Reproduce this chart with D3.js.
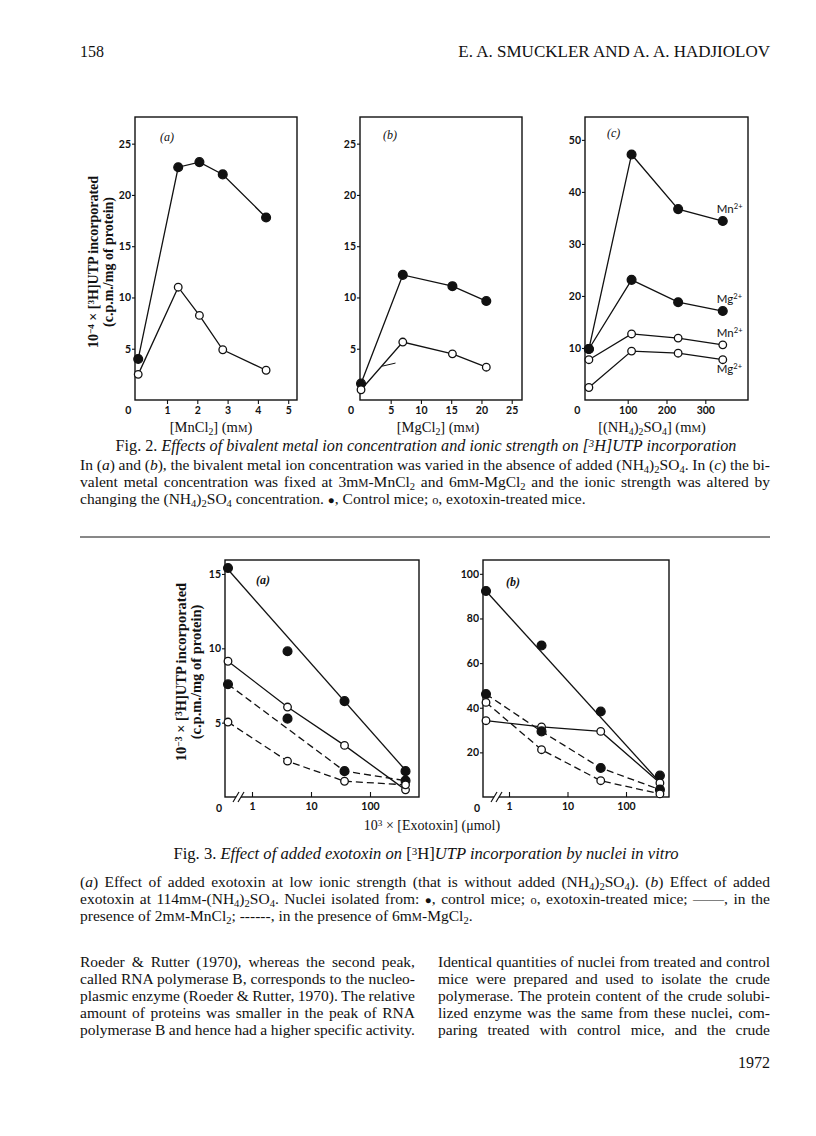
<!DOCTYPE html>
<html>
<head>
<meta charset="utf-8">
<script src="https://cdn.jsdelivr.net/npm/d3@7"></script>
<style>
body { margin: 0; background: #fff; }
svg text { font-family: "Liberation Serif", "Times New Roman", serif; fill: #111; }
.tick text, .tk { font-family: Lato, "DejaVu Sans", sans-serif; font-weight: 700; font-size: 10.5px; fill: #111; }
.tick line { stroke: #111; stroke-width: 1.1; }
</style>
</head>
<body>
<svg id="page" width="816" height="1136"></svg>
<script>
// ---- Fig. 2 data ----
const mnclConc = [0.05, 1.37, 2.07, 2.84, 4.27];
const mnclControl = [4.0, 22.7, 23.2, 22.0, 17.8];
const mnclTreated = [2.5, 11.0, 8.25, 4.9, 2.9];

const mgclConc = [0.1, 7.0, 15.2, 20.8];
const mgclControl = [1.6, 12.2, 11.1, 9.65];
const mgclTreated = [1.0, 5.65, 4.5, 3.2];
const mgclStrayX = [3.6, 5.8];
const mgclStrayY = [3.3, 3.6];

const sulphateConc = [0, 110, 230, 345];
const mnSulphControl = [9.8, 47.2, 36.7, 34.4];
const mgSulphControl = [9.8, 23.1, 18.8, 17.1];
const mnSulphTreated = [7.75, 12.7, 11.9, 10.6];
const mgSulphTreated = [2.4, 9.4, 9.0, 7.75];

// ---- Fig. 3 data ----
const exotoxinA = [0, 4, 37, 400];
const mnControlA = [15.4, 9.8, 6.45, 1.74];
const mnTreatedA = [9.13, 6.05, 3.47, 0.48];
const mgControlA = [7.58, 5.27, 1.74, 1.1];
const mgTreatedA = [5.04, 2.41, 1.06, 0.82];
const fitXA = [0, 400];
const mnControlAFit = [15.3, 1.8];
const mgControlALineX = [0, 37, 400];
const mgControlALine = [7.58, 1.74, 1.1];

const exotoxinB = [0, 3.6, 37, 380];
const mnControlB = [92.3, 67.9, 38.3, 9.6];
const mnTreatedB = [34.2, 31.4, 29.4, 6.3];
const mgControlB = [46.1, 29.4, 13.0, 3.3];
const mgTreatedB = [42.4, 21.2, 7.3, 1.4];
const fitXB = [0, 380];
const mnControlBFit = [92.3, 6.5];

const svg = d3.select('#page');

// text helpers
const sub = s => `<tspan baseline-shift="-2.5" font-size="68%">${s}</tspan>`;
const sup = s => `<tspan baseline-shift="4.5" font-size="66%">${s}</tspan>`;
const sc = s => `<tspan font-size="74%">${s}</tspan>`;
const it = s => `<tspan font-style="italic">${s}</tspan>`;
const mM = `m${sc('M')}`;
const nh4so4 = `(NH${sub('4')})${sub('2')}SO${sub('4')}`;

function addText(parent, x, y, html, opt = {}) {
    const t = parent.append('text')
        .attr('x', x).attr('y', y)
        .attr('font-size', opt.size || 15.5)
        .attr('text-anchor', opt.anchor || 'start')
        .html(html);
    if (opt.weight) t.attr('font-weight', opt.weight);
    if (opt.italic) t.attr('font-style', 'italic');
    if (opt.rotate) t.attr('transform', `rotate(-90,${x},${y})`);
    // justify by widening the word gaps
    if (opt.justify) {
        const node = t.node();
        const gaps = (node.textContent.match(/ /g) || []).length;
        const extra = opt.justify - node.getComputedTextLength();
        if (gaps) t.style('word-spacing', `${extra / gaps}px`);
    }
    return t;
}

function drawSeries(g, x, y, xs, ys, filled, opt = {}) {
    const line = d3.line().x(d => x(d[0])).y(d => y(d[1]));
    const lx = opt.lineX || xs, ly = opt.lineY || ys;
    g.append('path')
        .datum(lx.map((v, i) => [v, ly[i]]))
        .attr('d', line)
        .attr('fill', 'none')
        .attr('stroke', '#111')
        .attr('stroke-width', 1.3)
        .attr('stroke-dasharray', opt.dashed ? '7,4' : null);
    g.selectAll(null)
        .data(xs.map((v, i) => [v, ys[i]]))
        .join('circle')
        .attr('cx', d => x(d[0]))
        .attr('cy', d => y(d[1]))
        .attr('r', filled ? 4.4 : 3.8)
        .attr('fill', filled ? '#111' : '#fff')
        .attr('stroke', '#111')
        .attr('stroke-width', 1.3);
}

// ---- header ----
addText(svg, 80, 57, '158', { size: 16 });
addText(svg, 770, 57, 'E. A. SMUCKLER AND A. A. HADJIOLOV', { size: 17, anchor: 'end' });

// ---- Fig. 2 ----
const fig2Top = 117, fig2Bottom = 400;
const fig2Panels = [
    { name: '(a)', left: 135, right: 297, xDomain: [-0.056, 5.29], xTicks: [0, 1, 2, 3, 4, 5],
      yDomain: [0, 27.6], yTicks: [5, 10, 15, 20, 25], zeroDx: -9, nameX: 160, nameY: 141,
      xlabel: `[MnCl${sub('2')}] (${mM})`, xlabelX: 211,
      series: [[mnclConc, mnclControl, true], [mnclConc, mnclTreated, false]] },
    { name: '(b)', left: 360, right: 522, xDomain: [-0.07, 26.7], xTicks: [0, 5, 10, 15, 20, 25],
      yDomain: [0, 27.6], yTicks: [5, 10, 15, 20, 25], zeroDx: -10, nameX: 383, nameY: 139,
      xlabel: `[MgCl${sub('2')}] (${mM})`, xlabelX: 438,
      series: [[mgclConc, mgclControl, true], [mgclConc, mgclTreated, false]] },
    { name: '(c)', left: 585, right: 748, xDomain: [-10, 410], xTicks: [0, 100, 200, 300],
      yDomain: [0, 54.4], yTicks: [10, 20, 30, 40, 50], zeroDx: -12, nameX: 607, nameY: 137,
      xlabel: `[${nh4so4}] (${mM})`, xlabelX: 652,
      series: [[sulphateConc, mnSulphControl, true], [sulphateConc, mgSulphControl, true],
               [sulphateConc, mnSulphTreated, false], [sulphateConc, mgSulphTreated, false]] }
];

const fig2Scales = [];
fig2Panels.forEach(p => {
    const g = svg.append('g');
    const x = d3.scaleLinear().domain(p.xDomain).range([p.left, p.right]);
    const y = d3.scaleLinear().domain(p.yDomain).range([fig2Bottom, fig2Top]);
    fig2Scales.push({ x, y, g });

    g.append('rect')
        .attr('x', p.left).attr('y', fig2Top)
        .attr('width', p.right - p.left).attr('height', fig2Bottom - fig2Top)
        .attr('fill', 'none').attr('stroke', '#111').attr('stroke-width', 1.4);

    const xAxis = g.append('g')
        .attr('transform', `translate(0,${fig2Bottom})`)
        .call(d3.axisBottom(x).tickValues(p.xTicks).tickSize(4).tickPadding(3).tickFormat(d3.format('d')));
    xAxis.select('.domain').remove();
    xAxis.selectAll('.tick').filter(d => d === 0).select('line').remove();
    xAxis.selectAll('.tick').filter(d => d === 0).select('text').attr('dx', p.zeroDx);

    const yAxis = g.append('g')
        .attr('transform', `translate(${p.left},0)`)
        .call(d3.axisLeft(y).tickValues(p.yTicks).tickSize(3).tickPadding(1));
    yAxis.select('.domain').remove();

    p.series.forEach(s => drawSeries(g, x, y, s[0], s[1], s[2]));

    addText(g, p.nameX, p.nameY, p.name, { size: 12, italic: true });
    addText(g, p.xlabelX, 432, p.xlabel, { size: 14.5, anchor: 'middle' });
});

// small stray stroke in panel (b)
{
    const { x, y, g } = fig2Scales[1];
    g.append('path')
        .datum(mgclStrayX.map((v, i) => [v, mgclStrayY[i]]))
        .attr('d', d3.line().x(d => x(d[0])).y(d => y(d[1])))
        .attr('fill', 'none').attr('stroke', '#111').attr('stroke-width', 1);
}

// ion labels in panel (c)
{
    const { x, y, g } = fig2Scales[2];
    const last = sulphateConc.length - 1;
    const ionLabels = [
        ['Mn', mnSulphControl[last], -8], ['Mg', mgSulphControl[last], -8],
        ['Mn', mnSulphTreated[last], -8], ['Mg', mgSulphTreated[last], 13]
    ];
    ionLabels.forEach(([ion, v, dy]) => {
        g.append('text')
            .attr('x', x(sulphateConc[last]) - 6)
            .attr('y', y(v) + dy)
            .attr('font-size', 11.5)
            .style('font-family', 'Lato, "DejaVu Sans", sans-serif')
            .html(`${ion}${sup('2+')}`);
    });
}

// y axis title
addText(svg, 98, 262, `10${sup('−4')} × [${sup('3')}H]UTP incorporated`, { size: 14, anchor: 'middle', weight: 700, rotate: true });
addText(svg, 113, 262, '(c.p.m./mg of protein)', { size: 14, anchor: 'middle', weight: 700, rotate: true });

// Fig. 2 caption
addText(svg, 426, 451, `Fig. 2. ${it(`Effects of bivalent metal ion concentration and ionic strength on [${sup('3')}H]UTP incorporation`)}`, { anchor: 'middle', size: 16.2 });
addText(svg, 80, 470, `In (${it('a')}) and (${it('b')}), the bivalent metal ion concentration was varied in the absence of added ${nh4so4}. In (${it('c')}) the bi-`, { justify: 690 });
addText(svg, 80, 487, `valent metal concentration was fixed at 3${mM}-MnCl${sub('2')} and 6${mM}-MgCl${sub('2')} and the ionic strength was altered by`, { justify: 690 });
addText(svg, 80, 504, `changing the ${nh4so4} concentration. <tspan font-size="75%">●</tspan>, Control mice; <tspan font-size="80%">o</tspan>, exotoxin-treated mice.`);

// rule
svg.append('line').attr('x1', 80).attr('x2', 770).attr('y1', 537).attr('y2', 537)
    .attr('stroke', '#111').attr('stroke-width', 1);

// ---- Fig. 3 ----
const fig3Top = 560, fig3Bottom = 797;
const fig3Panels = [
    { name: '(a)', left: 225, right: 419, zero: 228, one: 252, hundred: 370,
      yDomain: [0, 15.94], yTicks: [5, 10, 15], nameX: 256, nameY: 584,
      series: [
          [exotoxinA, mnControlA, true, false, fitXA, mnControlAFit],
          [exotoxinA, mnTreatedA, false, false],
          [exotoxinA, mgControlA, true, true, mgControlALineX, mgControlALine],
          [exotoxinA, mgTreatedA, false, true]
      ] },
    { name: '(b)', left: 483, right: 669, zero: 486, one: 509, hundred: 626,
      yDomain: [0, 106.2], yTicks: [20, 40, 60, 80, 100], nameX: 506, nameY: 586,
      series: [
          [exotoxinB, mnControlB, true, false, fitXB, mnControlBFit],
          [exotoxinB, mnTreatedB, false, false],
          [exotoxinB, mgControlB, true, true],
          [exotoxinB, mgTreatedB, false, true]
      ] }
];

fig3Panels.forEach(p => {
    const g = svg.append('g');
    const xLog = d3.scaleLog().domain([1, 100]).range([p.one, p.hundred]);
    const x = v => v === 0 ? p.zero : xLog(v);
    const y = d3.scaleLinear().domain(p.yDomain).range([fig3Bottom, fig3Top]);

    g.append('rect')
        .attr('x', p.left).attr('y', fig3Top)
        .attr('width', p.right - p.left).attr('height', fig3Bottom - fig3Top)
        .attr('fill', 'none').attr('stroke', '#111').attr('stroke-width', 1.4);

    // axis break
    const b1 = p.zero + 8, b2 = p.zero + 13;
    g.append('rect').attr('x', b1).attr('y', fig3Bottom - 2).attr('width', b2 - b1).attr('height', 4).attr('fill', '#fff');
    [b1, b2].forEach(bx => g.append('line')
        .attr('x1', bx - 3).attr('y1', fig3Bottom + 5).attr('x2', bx + 3).attr('y2', fig3Bottom - 5)
        .attr('stroke', '#111').attr('stroke-width', 1.2));

    const xAxis = g.append('g')
        .attr('transform', `translate(0,${fig3Bottom})`)
        .call(d3.axisBottom(xLog).tickValues([1, 10, 100]).tickSize(-5).tickPadding(6).tickFormat(d3.format('d')));
    xAxis.select('.domain').remove();
    g.append('text').attr('class', 'tk').attr('x', p.zero - 9).attr('y', fig3Bottom + 14.5)
        .attr('text-anchor', 'middle').text('0');

    const yAxis = g.append('g')
        .attr('transform', `translate(${p.left},0)`)
        .call(d3.axisLeft(y).tickValues(p.yTicks).tickSize(3).tickPadding(1));
    yAxis.select('.domain').remove();

    p.series.forEach(s => drawSeries(g, x, y, s[0], s[1], s[2], { dashed: s[3], lineX: s[4], lineY: s[5] }));

    addText(g, p.nameX, p.nameY, p.name, { size: 12, italic: true, weight: 700 });
});

addText(svg, 186, 672, `10${sup('−3')} × [${sup('3')}H]UTP incorporated`, { size: 14.5, anchor: 'middle', weight: 700, rotate: true });
addText(svg, 201, 672, '(c.p.m./mg of protein)', { size: 14.5, anchor: 'middle', weight: 700, rotate: true });
addText(svg, 432, 830, `10${sup('3')} × [Exotoxin] (μmol)`, { size: 14, anchor: 'middle' });

// Fig. 3 caption
addText(svg, 426, 859, `Fig. 3. ${it('Effect of added exotoxin on')} [${sup('3')}H]${it('UTP incorporation by nuclei in vitro')}`, { anchor: 'middle', size: 16.6 });
addText(svg, 80, 887, `(${it('a')}) Effect of added exotoxin at low ionic strength (that is without added ${nh4so4}). (${it('b')}) Effect of added`, { justify: 690 });
addText(svg, 80, 904, `exotoxin at 114${mM}-${nh4so4}. Nuclei isolated from: <tspan font-size="75%">●</tspan>, control mice; <tspan font-size="80%">o</tspan>, exotoxin-treated mice; ——, in the`, { justify: 690 });
addText(svg, 80, 921, `presence of 2${mM}-MnCl${sub('2')}; ------, in the presence of 6${mM}-MgCl${sub('2')}.`);

// ---- body text ----
const leftCol = [
    'Roeder &amp; Rutter (1970), whereas the second peak,',
    'called RNA polymerase B, corresponds to the nucleo-',
    'plasmic enzyme (Roeder &amp; Rutter, 1970). The relative',
    'amount of proteins was smaller in the peak of RNA',
    'polymerase B and hence had a higher specific activity.'
];
const rightCol = [
    'Identical quantities of nuclei from treated and control',
    'mice were prepared and used to isolate the crude',
    'polymerase. The protein content of the crude solubi-',
    'lized enzyme was the same from these nuclei, com-',
    'paring treated with control mice, and the crude'
];
leftCol.forEach((s, i) => addText(svg, 80, 967 + i * 17, s, { justify: 335 }));
rightCol.forEach((s, i) => addText(svg, 438, 967 + i * 17, s, { justify: 332 }));
addText(svg, 770, 1068, '1972', { anchor: 'end', size: 16 });
</script>
</body>
</html>
